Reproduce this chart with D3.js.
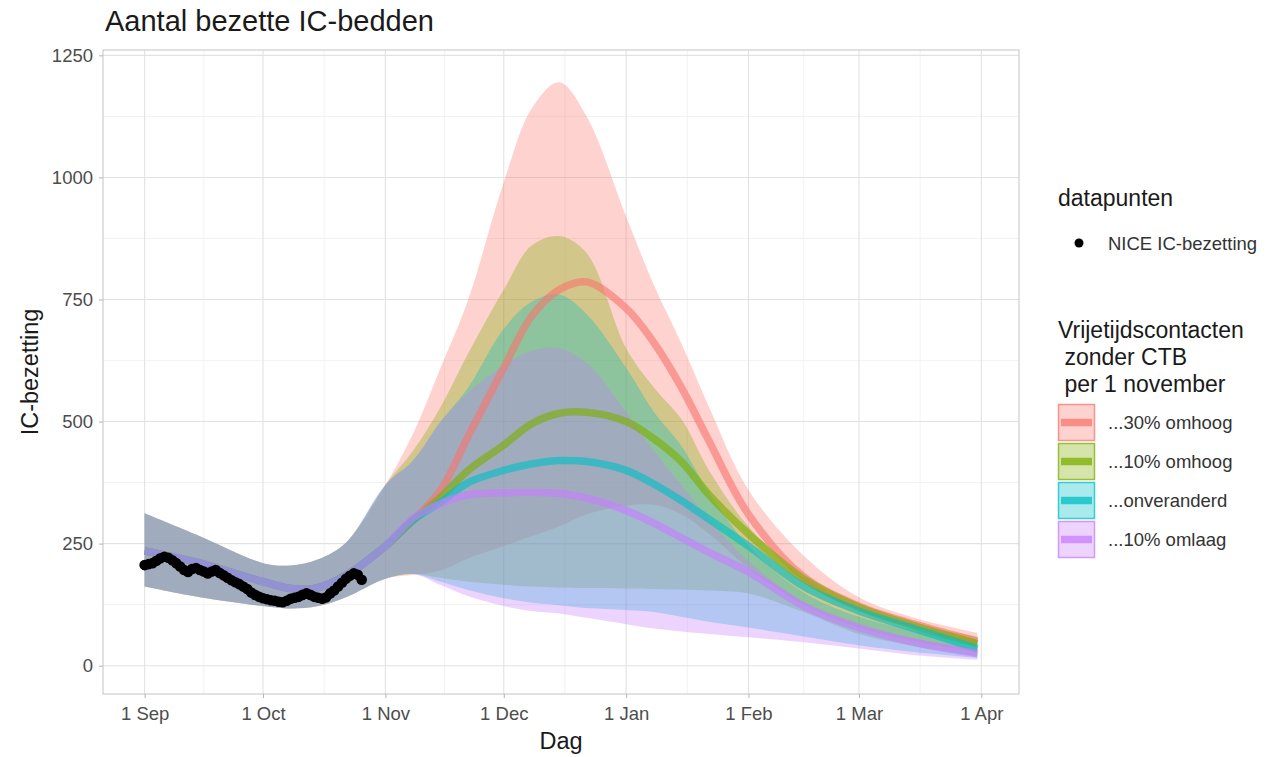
<!DOCTYPE html>
<html><head><meta charset="utf-8">
<script src="https://cdn.jsdelivr.net/npm/d3@7"></script>
<style>
body{margin:0;background:#fff}
text{font-family:"Liberation Sans",Arial,Helvetica,sans-serif}
</style>
</head><body>
<svg id="c" width="1271" height="757"></svg>
<script>
// ---------- data ----------
const dates = ["2021-09-01","2021-09-15","2021-10-01","2021-10-08","2021-10-15","2021-10-22","2021-11-01",
  "2021-11-08","2021-11-15","2021-11-22","2021-12-01","2021-12-08","2021-12-15","2021-12-22","2022-01-01",
  "2022-01-08","2022-01-15","2022-01-22","2022-02-01","2022-02-15","2022-03-01","2022-03-15","2022-03-31"];

const scenarioNames = ["...30% omhoog","...10% omhoog","...onveranderd","...10% omlaag"];
const scenarioColors = ["#F8766D","#7CAE00","#00BFC4","#C77CFF"];

const up30Mid = [235,210,172,158,160,185,245,298,360,470,610,715,770,786,732,662,570,460,310,182,122,85,50];
const up30Lo  = [162,140,122,117,122,140,178,186,195,220,245,265,285,310,328,330,310,270,200,125,78,50,28];
const up30Hi  = [312,265,210,205,218,252,370,475,610,750,990,1140,1195,1125,920,780,660,530,360,225,140,98,67];

const up10Mid = [235,210,172,158,160,185,245,298,345,400,452,495,517,519,500,465,418,350,270,178,120,82,45];
const up10Lo  = [162,140,122,117,122,140,178,188,180,172,166,162,160,159,158,157,156,154,148,110,65,40,20];
const up10Hi  = [312,265,210,205,218,252,370,440,530,640,770,860,880,845,650,570,505,400,285,180,118,84,60];

const sameMid = [235,210,172,158,160,185,245,298,335,375,400,413,420,418,400,372,338,300,245,162,112,76,35];
const sameLo  = [162,140,122,117,122,140,178,188,172,155,138,129,124,118,114,110,100,90,78,60,42,28,16];
const sameHi  = [312,265,210,205,218,252,370,420,500,570,690,745,760,720,610,520,450,355,245,150,100,72,52];

const down10Mid = [235,210,172,158,160,185,245,302,332,350,354,355,353,343,318,292,262,232,192,122,78,48,25];
const down10Lo  = [162,140,122,117,122,140,178,188,165,142,122,112,107,98,85,76,70,65,58,48,35,22,12];
const down10Hi  = [312,265,210,205,218,252,370,420,500,560,615,645,650,620,520,440,370,300,215,130,82,55,35];

// NICE IC-bezetting, daily from 1 Sep 2021
const niceStart = "2021-09-01";
const niceValues = [206,208,210,215,220,223,221,216,210,203,196,192,198,200,196,193,189,193,196,190,
  185,180,175,171,167,162,157,150,145,141,
  138,136,134,133,131,130,133,137,139,141,145,148,145,141,139,137,140,148,154,162,170,178,184,189,186,176];

const yTicks = [0,250,500,750,1000,1250];
const xTickDates = ["2021-09-01","2021-10-01","2021-11-01","2021-12-01","2022-01-01","2022-02-01","2022-03-01","2022-04-01"];
const xTickLabels = ["1 Sep","1 Oct","1 Nov","1 Dec","1 Jan","1 Feb","1 Mar","1 Apr"];

// ---------- setup ----------
const parse = d3.timeParse("%Y-%m-%d");
const W = 1271, H = 757;
const P = {left:103, right:1019, top:50, bottom:694};
const svg = d3.select("#c");
svg.append("rect").attr("width",W).attr("height",H).attr("fill","#fff");

const dts = dates.map(parse);
const ext = d3.extent(dts);
const span = ext[1]-ext[0];
const x = d3.scaleTime()
  .domain([new Date(+ext[0]-span*0.05), new Date(+ext[1]+span*0.05)])
  .range([P.left, P.right]);
const y = d3.scaleLinear().domain([-58,1261]).range([P.bottom, P.top]);

const scen = [
  {mid:up30Mid, lo:up30Lo, hi:up30Hi},
  {mid:up10Mid, lo:up10Lo, hi:up10Hi},
  {mid:sameMid, lo:sameLo, hi:sameHi},
  {mid:down10Mid, lo:down10Lo, hi:down10Hi}
].map((s,i)=>({name:scenarioNames[i], color:scenarioColors[i],
   rows: dts.map((d,j)=>({d, mid:s.mid[j], lo:s.lo[j], hi:s.hi[j]}))}));

// ---------- grid ----------
const grid = svg.append("g");
const xt = xTickDates.map(parse);
const xMinor = d3.pairs(xt).map(([a,b])=>new Date((+a + +b)/2));
const yMinor = d3.pairs(yTicks).map(([a,b])=>(a+b)/2);
grid.selectAll(".ym").data(yMinor).join("line")
  .attr("x1",P.left).attr("x2",P.right).attr("y1",d=>y(d)).attr("y2",d=>y(d))
  .attr("stroke","#efefef").attr("stroke-width",0.8);
grid.selectAll(".xm").data(xMinor.filter(d=>x(d)>P.left && x(d)<P.right)).join("line")
  .attr("y1",P.top).attr("y2",P.bottom).attr("x1",d=>x(d)).attr("x2",d=>x(d))
  .attr("stroke","#efefef").attr("stroke-width",0.8);
grid.selectAll(".yM").data(yTicks).join("line")
  .attr("x1",P.left).attr("x2",P.right).attr("y1",d=>y(d)).attr("y2",d=>y(d))
  .attr("stroke","#e2e2e2").attr("stroke-width",1.1);
grid.selectAll(".xM").data(xt).join("line")
  .attr("y1",P.top).attr("y2",P.bottom).attr("x1",d=>x(d)).attr("x2",d=>x(d))
  .attr("stroke","#e2e2e2").attr("stroke-width",1.1);

// ---------- marks ----------
svg.append("clipPath").attr("id","clip").append("rect")
  .attr("x",P.left).attr("y",P.top).attr("width",P.right-P.left).attr("height",P.bottom-P.top);
const plot = svg.append("g").attr("clip-path","url(#clip)");

const crv = d3.curveCatmullRom.alpha(0.5);
const area = d3.area().x(r=>x(r.d)).y0(r=>y(r.lo)).y1(r=>y(r.hi)).curve(crv);
const line = d3.line().x(r=>x(r.d)).y(r=>y(r.mid)).curve(crv);

plot.selectAll(".band").data(scen).join("path")
  .attr("d",s=>area(s.rows)).attr("fill",s=>s.color).attr("fill-opacity",0.33);
plot.selectAll(".ln").data(scen).join("path")
  .attr("d",s=>line(s.rows)).attr("fill","none").attr("stroke",s=>s.color)
  .attr("stroke-width",7.5).attr("stroke-opacity",0.62).attr("stroke-linecap","butt");

const n0 = parse(niceStart);
const pts = niceValues.map((v,i)=>({d:d3.timeDay.offset(n0,i), v}));
plot.selectAll(".pt").data(pts).join("circle")
  .attr("cx",p=>x(p.d)).attr("cy",p=>y(p.v)).attr("r",5.3).attr("fill","#000");

// ---------- panel border ----------
svg.append("rect").attr("x",P.left).attr("y",P.top)
  .attr("width",P.right-P.left).attr("height",P.bottom-P.top)
  .attr("fill","none").attr("stroke","#c4c4c4").attr("stroke-width",1);

// ---------- axes ----------
const xAxis = svg.append("g").attr("transform",`translate(0,${P.bottom})`)
  .call(d3.axisBottom(x).tickValues(xt).tickFormat((d,i)=>xTickLabels[i]).tickSize(4).tickPadding(9));
const yAxis = svg.append("g").attr("transform",`translate(${P.left},0)`)
  .call(d3.axisLeft(y).tickValues(yTicks).tickFormat(d=>String(d)).tickSize(4).tickPadding(6));
[xAxis,yAxis].forEach(a=>{
  a.select(".domain").remove();
  a.selectAll(".tick line").attr("stroke","#b3b3b3");
  a.selectAll(".tick text").attr("fill","#4d4d4d").style("font-size","18.5px")
   .style("font-family",'"Liberation Sans",Arial,sans-serif');
});

// ---------- titles ----------
svg.append("text").attr("x",105).attr("y",31).text("Aantal bezette IC-bedden")
  .style("font-size","29px").attr("fill","#1a1a1a");
svg.append("text").attr("x",(P.left+P.right)/2).attr("y",749).attr("text-anchor","middle")
  .text("Dag").style("font-size","23.5px").attr("fill","#1a1a1a");
svg.append("text").attr("transform",`translate(38,${(P.top+P.bottom)/2}) rotate(-90)`)
  .attr("text-anchor","middle").text("IC-bezetting").style("font-size","23.5px").attr("fill","#1a1a1a");

// ---------- legend ----------
const lg = svg.append("g");
lg.append("text").attr("x",1058).attr("y",206).text("datapunten").style("font-size","23px").attr("fill","#1a1a1a");
lg.append("circle").attr("cx",1079).attr("cy",243).attr("r",4.5).attr("fill","#000");
lg.append("text").attr("x",1108).attr("y",250).text("NICE IC-bezetting").style("font-size","18.5px").attr("fill","#333");

const ttl = ["Vrijetijdscontacten"," zonder CTB"," per 1 november"];
lg.selectAll(".lt").data(ttl).join("text")
  .attr("x",1058).attr("y",(d,i)=>338+i*27).attr("xml:space","preserve").style("white-space","pre")
  .text(d=>d).style("font-size","23px").attr("fill","#1a1a1a");

const keyY0 = 404, keyStep = 39, keyS = 37;
const keys = lg.selectAll(".key").data(scen).join("g")
  .attr("transform",(d,i)=>`translate(1058,${keyY0+i*keyStep})`);
keys.append("rect").attr("x",0.5).attr("y",0.5).attr("width",keyS-1).attr("height",keyS-1)
  .attr("fill",s=>s.color).attr("fill-opacity",0.33)
  .attr("stroke",s=>s.color).attr("stroke-opacity",0.75).attr("stroke-width",1.5);
keys.append("line").attr("x1",3).attr("x2",keyS-3).attr("y1",keyS/2).attr("y2",keyS/2)
  .attr("stroke",s=>s.color).attr("stroke-width",7.5).attr("stroke-opacity",0.75);
keys.append("text").attr("x",50).attr("y",keyS/2+6.5).text(s=>s.name)
  .style("font-size","18.5px").attr("fill","#333");
</script>
</body></html>
